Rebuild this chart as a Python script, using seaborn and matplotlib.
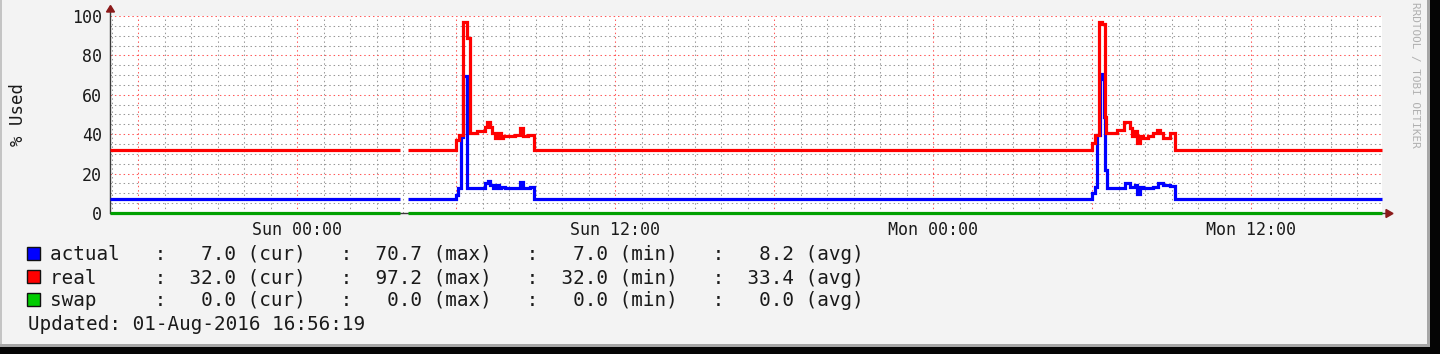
import numpy as np
import pandas as pd
import matplotlib
matplotlib.use("Agg")
import matplotlib.pyplot as plt
import matplotlib.dates as mdates
from matplotlib.ticker import MultipleLocator, FuncFormatter
from matplotlib.patches import Rectangle, Polygon
import seaborn as sns

# ---------------- data ----------------
BASE = pd.Timestamp("2016-07-31 00:00:00")          # Sun 00:00
START_H = -7.0614                                   # Sat 16:56:19
END_H = 40.9386                                     # Mon 16:56:19
GAP_START_H = 3.90
GAP_END_H = 4.20
nan = np.nan

# step breakpoints: hours relative to Sun 00:00, value holds until next breakpoint (NaN = no data)
real_hours = [START_H, GAP_START_H, GAP_END_H,
              5.99, 6.11, 6.27, 6.42, 6.52, 6.77, 7.08, 7.17, 7.27, 7.34, 7.46, 7.59, 7.71, 7.77,
              8.22, 8.40, 8.53, 8.72, 8.93,
              29.98, 30.10, 30.26, 30.39, 30.48, 30.54, 30.92, 31.21, 31.42, 31.49, 31.61, 31.68,
              31.80, 31.92, 32.11, 32.30, 32.43, 32.55, 32.68, 32.93, 33.12, END_H]
real_values = [32.0, nan, 32.0,
               37.1, 39.6, 97.2, 88.7, 40.4, 41.5, 43.8, 46.0, 43.8, 40.4, 37.9, 40.4, 37.9, 39.0,
               39.6, 43.0, 39.0, 39.6, 32.0,
               35.4, 39.6, 97.2, 96.0, 48.9, 40.4, 42.0, 46.3, 43.0, 39.0, 41.5, 35.4,
               39.0, 38.0, 39.0, 40.4, 42.0, 40.4, 38.0, 40.4, 32.0, 32.0]

actual_hours = [START_H, GAP_START_H, GAP_END_H,
                5.99, 6.06, 6.17, 6.25, 6.42, 7.08, 7.21, 7.27, 7.40, 7.52, 7.62, 7.71, 7.84,
                8.40, 8.53, 8.78, 8.93,
                29.98, 30.10, 30.19, 30.29, 30.39, 30.45, 30.50, 30.56, 31.23, 31.42, 31.61, 31.68,
                31.80, 31.92, 32.30, 32.49, 32.68, 32.93, 33.12, END_H]
actual_values = [7.0, nan, 7.0,
                 9.0, 12.6, 38.7, 69.5, 12.5, 15.0, 16.0, 14.0, 12.5, 14.0, 12.5, 13.4, 12.5,
                 15.6, 12.5, 13.0, 7.0,
                 10.0, 13.4, 39.6, 70.7, 68.0, 48.9, 21.8, 12.5, 15.2, 13.4, 14.0, 9.8,
                 13.4, 12.5, 13.4, 15.0, 14.0, 13.5, 7.0, 7.0]

swap_hours = [START_H, GAP_START_H, GAP_END_H, END_H]
swap_values = [0.0, nan, 0.0, 0.0]

series_names = ["actual", "real", "swap"]
series_colors = ["#0000FF", "#FF0000", "#00A000"]
swatch_colors = ["#0000FF", "#FF0000", "#00CC00"]
stat_cur = [7.0, 32.0, 0.0]
stat_max = [70.7, 97.2, 0.0]
stat_min = [7.0, 32.0, 0.0]
stat_avg = [8.2, 33.4, 0.0]
updated_text = "Updated: 01-Aug-2016 16:56:19"
ylabel_text = "% Used"
watermark = "RRDTOOL / TOBI OETIKER"


def step_rows(name, hours, values):
    rows, seg = [], 0
    for i, (h, v) in enumerate(zip(hours, values)):
        if np.isnan(v):
            rows.append((name, seg, h, values[i - 1]))
            seg += 1
        else:
            rows.append((name, seg, h, v))
    return rows


rows = (step_rows("actual", actual_hours, actual_values)
        + step_rows("real", real_hours, real_values)
        + step_rows("swap", swap_hours, swap_values))
df = pd.DataFrame(rows, columns=["series", "seg", "hours", "value"])
df["time"] = BASE + pd.to_timedelta(df["hours"], unit="h")
df["unit"] = df["series"] + "_" + df["seg"].astype(str)

# ---------------- figure ----------------
sns.set_theme(style="white")
plt.rcParams["font.family"] = ["DejaVu Sans Mono", "DejaVu Sans"]

W, H = 1440, 354
BG = "#F3F3F3"
fig = plt.figure(figsize=(W / 100, H / 100), dpi=100, facecolor=BG)


def fx(x):
    return x / W


def fy(y):
    return 1 - y / H


ax_left, ax_right, ax_top, ax_bot = 110, 1382, 16, 213
ax = fig.add_axes([fx(ax_left), fy(ax_bot), fx(ax_right - ax_left), (ax_bot - ax_top) / H])
ax.set_facecolor("white")

sns.lineplot(data=df, x="time", y="value", hue="series", units="unit", estimator=None,
             hue_order=series_names, palette=series_colors, drawstyle="steps-post",
             linewidth=2.3, legend=False, sort=False, ax=ax, solid_capstyle="butt",
             solid_joinstyle="miter", zorder=5)
for ln in ax.lines:
    ln.set_clip_on(False)

ax.set_xlim(BASE + pd.Timedelta(hours=START_H), BASE + pd.Timedelta(hours=END_H))
ax.set_ylim(0, 100)

# ticks & grid
ax.xaxis.set_major_locator(mdates.HourLocator(byhour=[0, 6, 12, 18]))
ax.xaxis.set_minor_locator(mdates.HourLocator())


def xfmt(v, pos):
    d = mdates.num2date(v)
    return d.strftime("%a %H:%M") if d.hour in (0, 12) else ""


ax.xaxis.set_major_formatter(FuncFormatter(xfmt))
ax.yaxis.set_major_locator(MultipleLocator(20))
ax.yaxis.set_minor_locator(MultipleLocator(5))

ax.grid(which="major", color=(1, 0.35, 0.35, 0.5), linestyle=(0, (1.4, 2.8)), linewidth=0.75)
ax.grid(which="minor", color=(0.6, 0.6, 0.6, 0.45), linestyle=(0, (1.4, 2.8)), linewidth=0.75)
ax.set_axisbelow(True)

for s in ax.spines.values():
    s.set_visible(False)

ax.tick_params(axis="x", which="major", direction="out", length=2.5, width=0.8,
               color=(1, 0.35, 0.35, 0.6), pad=3, labelsize=12, labelcolor="#1a1a1a")
ax.tick_params(axis="x", which="minor", length=0)
ax.tick_params(axis="y", which="major", direction="out", length=4, width=1,
               color="#333333", pad=2, labelsize=12, labelcolor="#1a1a1a")
ax.tick_params(axis="y", which="minor", length=0)
ax.set_xlabel("")
ax.set_ylabel("")

# axis lines with arrows (drawn under the data lines)
AX_COLOR = "#3a3a3a"
ARROW = "#8B1A1A"
ax.plot([0, (1387 - ax_left) / (ax_right - ax_left)], [0, 0], transform=ax.transAxes,
        color=AX_COLOR, lw=1.0, clip_on=False, zorder=3)
ax.plot([0, 0], [0, (ax_bot - 10) / (ax_bot - ax_top)], transform=ax.transAxes,
        color=AX_COLOR, lw=1.0, clip_on=False, zorder=3)
fig.add_artist(Polygon([(fx(1386), fy(209.5)), (fx(1393), fy(213.5)), (fx(1386), fy(217.5))],
                       closed=True, transform=fig.transFigure, color=ARROW, zorder=6))
fig.add_artist(Polygon([(fx(106.5), fy(12)), (fx(110.5), fy(5.5)), (fx(114.5), fy(12))],
                       closed=True, transform=fig.transFigure, color=ARROW, zorder=6))

# y label
fig.text(fx(18), fy(114), ylabel_text, rotation=90, ha="center", va="center",
         fontsize=12.5, color="#1a1a1a")

# watermark
fig.text(fx(1415), fy(148), watermark, rotation=270, ha="center", va="bottom",
         fontsize=7.9, color="#b0b0b0")

# legend
baselines = [260.5, 283.5, 306.5]
sw_tops = [247, 270, 293]
for i, name in enumerate(series_names):
    line = (f"{name:<9}: {stat_cur[i]:5.1f} (cur)   : {stat_max[i]:5.1f} (max)   : "
            f"{stat_min[i]:5.1f} (min)   : {stat_avg[i]:5.1f} (avg)")
    fig.text(fx(50.5), fy(baselines[i]), line, ha="left", va="baseline", fontsize=13.85,
             color="#1a1a1a")
    fig.add_artist(Rectangle((fx(27), fy(sw_tops[i] + 13)), fx(13), 13 / H,
                             transform=fig.transFigure, facecolor=swatch_colors[i],
                             edgecolor="#111111", linewidth=1.0))
fig.text(fx(27.5), fy(329.5), updated_text, ha="left", va="baseline", fontsize=13.85,
         color="#1a1a1a")

# window frame
fig.add_artist(Rectangle((0, 0), fx(2), 1, transform=fig.transFigure, color="#C4C4C4", lw=0))
fig.add_artist(Rectangle((fx(1427), fy(347)), fx(3), 1, transform=fig.transFigure, color="#A6A6A6", lw=0))
fig.add_artist(Rectangle((0, fy(347)), fx(1430), 3 / H, transform=fig.transFigure, color="#A6A6A6", lw=0))
fig.add_artist(Rectangle((fx(1430), 0), fx(10), 1, transform=fig.transFigure, color="#050505", lw=0))
fig.add_artist(Rectangle((0, 0), 1, 7 / H, transform=fig.transFigure, color="#050505", lw=0))

fig.savefig("out.png", dpi=100, facecolor=BG)
